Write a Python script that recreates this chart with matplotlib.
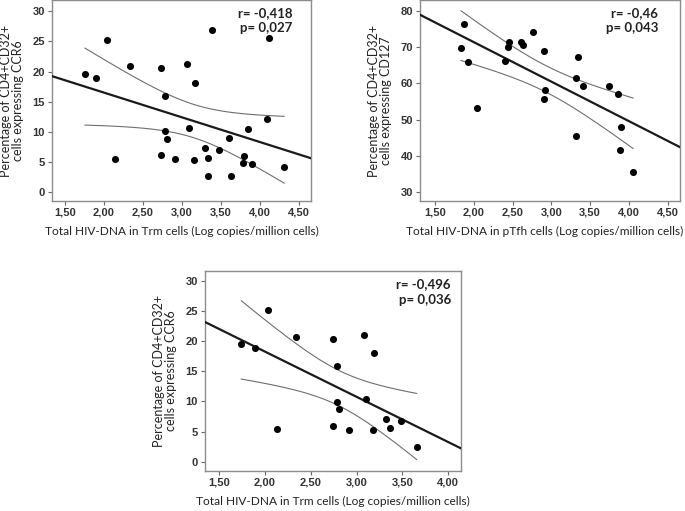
import numpy as np
import matplotlib
matplotlib.use("Agg")
import matplotlib.pyplot as plt
from matplotlib.ticker import FuncFormatter

# ---------------- data ----------------
# Panel 1: Trm HIV-DNA vs % CD4+CD32+ expressing CCR6
p1_x = [1.756, 1.897, 2.043, 2.337, 2.73, 2.778, 2.78, 2.808, 2.735, 2.91, 2.137,
        3.38, 4.115, 3.068, 3.167, 4.09, 3.09, 3.85, 3.607, 3.30, 3.47, 3.337,
        3.16, 3.79, 3.78, 3.90, 4.31, 3.337, 3.63]
p1_y = [19.6, 19.0, 25.3, 20.9, 20.6, 16.0, 10.1, 8.85, 6.1, 5.4, 5.5,
        26.95, 25.6, 21.25, 18.15, 12.2, 10.6, 10.5, 8.97, 7.3, 6.97, 5.7,
        5.37, 5.98, 4.8, 4.7, 4.1, 2.7, 2.6]

# Panel 2: pTfh HIV-DNA vs % CD4+CD32+ expressing CD127
p2_x = [1.874, 1.835, 1.92, 2.04, 2.40, 2.45, 2.44, 2.606, 2.64, 2.76, 2.906,
        3.345, 3.315, 3.41, 2.92, 2.90, 3.75, 3.86, 3.90, 3.32, 3.88, 4.055]
p2_y = [76.4, 69.9, 66.0, 53.3, 66.3, 71.5, 70.1, 71.6, 70.6, 74.3, 68.9,
        67.2, 61.6, 59.2, 58.1, 55.7, 59.2, 57.0, 47.8, 45.5, 41.6, 35.4]

# Panel 3: Trm HIV-DNA vs % CD4+CD32+ expressing CCR6 (subset)
p3_x = [1.743, 1.889, 2.034, 2.339, 2.742, 2.789, 2.789, 2.814, 2.742, 2.923,
        2.128, 3.08, 3.19, 3.10, 3.32, 3.36, 3.185, 3.49, 3.657]
p3_y = [19.5, 18.9, 25.2, 20.7, 20.4, 15.9, 9.96, 8.74, 5.98, 5.2,
        5.37, 21.1, 18.0, 10.46, 7.08, 5.53, 5.2, 6.75, 2.38]

stats = [("r= -0,418", "p= 0,027"), ("r= -0,46", "p= 0,043"), ("r= -0,496", "p= 0,036")]
xlabels = ["Total HIV-DNA in Trm cells (Log copies/million cells)",
           "Total HIV-DNA in pTfh cells (Log copies/million cells)",
           "Total HIV-DNA in Trm cells (Log copies/million cells)"]
ylabels = ["Percentage of CD4+CD32+\ncells expressing CCR6",
           "Percentage of CD4+CD32+\ncells expressing CD127",
           "Percentage of CD4+CD32+\ncells expressing CCR6"]

# ---------------- layout ----------------
W, H = 685, 511
fig = plt.figure(figsize=(W / 100, H / 100), dpi=100)

def rect(l, t, r, b):
    return [l / W, 1 - b / H, (r - l) / W, (b - t) / H]

axes_rects = [rect(52, 0.5, 311, 201), rect(420, 0.5, 680, 201), rect(205, 271, 461, 471)]
xlims = [(1.333, 4.654), (1.306, 4.66), (1.347, 4.14)]
ylims = [(-1.5, 31.8), (27.4, 83.0), (-1.55, 31.66)]
xticks = [np.arange(1.5, 4.51, 0.5), np.arange(1.5, 4.51, 0.5), np.arange(1.5, 4.01, 0.5)]
yticks = [np.arange(0, 31, 5), np.arange(30, 81, 10), np.arange(0, 31, 5)]
stat_pos = [(0.93, 0.968), (0.915, 0.968), (0.96, 0.965)]
xlabel_x = [0.5, 0.48, 0.5]

datasets = [(p1_x, p1_y), (p2_x, p2_y), (p3_x, p3_y)]

def tstat(df):
    # approximate 97.5% quantile of Student t (Cornish-Fisher expansion)
    z = 1.959964
    g1 = (z**3 + z) / 4
    g2 = (5 * z**5 + 16 * z**3 + 3 * z) / 96
    return z + g1 / df + g2 / df**2

label_font = ["Lato", "DejaVu Sans"]
tick_font = ["Liberation Sans", "DejaVu Sans"]

for i, (xs, ys) in enumerate(datasets):
    ax = fig.add_axes(axes_rects[i])
    x = np.asarray(xs)
    y = np.asarray(ys)
    n = len(x)
    b, a = np.polyfit(x, y, 1)
    xl = np.array(xlims[i])
    ax.plot(xl, a + b * xl, color="#1a1a1a", lw=1.6, zorder=3)
    xx = np.linspace(x.min(), x.max(), 200)
    resid = y - (a + b * x)
    s = np.sqrt(np.sum(resid**2) / (n - 2))
    sxx = np.sum((x - x.mean())**2)
    se = s * np.sqrt(1 / n + (xx - x.mean())**2 / sxx)
    t = tstat(n - 2)
    yy = a + b * xx
    ax.plot(xx, yy + t * se, color="#6e6e6e", lw=0.8, zorder=2)
    ax.plot(xx, yy - t * se, color="#6e6e6e", lw=0.8, zorder=2)
    ax.scatter(x, y, s=26, color="black", zorder=4, linewidths=0)

    ax.set_xlim(*xlims[i])
    ax.set_ylim(*ylims[i])
    ax.set_xticks(xticks[i])
    ax.set_yticks(yticks[i])
    ax.xaxis.set_major_formatter(FuncFormatter(lambda v, p: f"{v:.2f}".replace(".", ",")))
    ax.yaxis.set_major_formatter(FuncFormatter(lambda v, p: f"{v:.0f}"))
    for sp in ax.spines.values():
        sp.set_color("#8c8c8c")
        sp.set_linewidth(1.0)
    ax.tick_params(axis="both", direction="out", length=3, width=0.8, color="#666666",
                   labelsize=8, labelcolor="#333333", pad=2)
    for lab in ax.get_xticklabels() + ax.get_yticklabels():
        lab.set_fontweight("bold")
        lab.set_family(tick_font)
    ax.set_xlabel(xlabels[i], fontsize=8.6, family=label_font, color="#222222", labelpad=6,
                  x=xlabel_x[i])
    ax.set_ylabel(ylabels[i], fontsize=9.0, family=label_font, color="#222222", labelpad=6,
                  linespacing=1.0)
    r_txt, p_txt = stats[i]
    ax.text(stat_pos[i][0], stat_pos[i][1], r_txt + "\n" + p_txt, transform=ax.transAxes,
            ha="right", va="top", fontsize=9.5, fontweight="bold", family=label_font,
            color="#222222", linespacing=1.35, multialignment="right")

fig.savefig("out.png", dpi=100)
